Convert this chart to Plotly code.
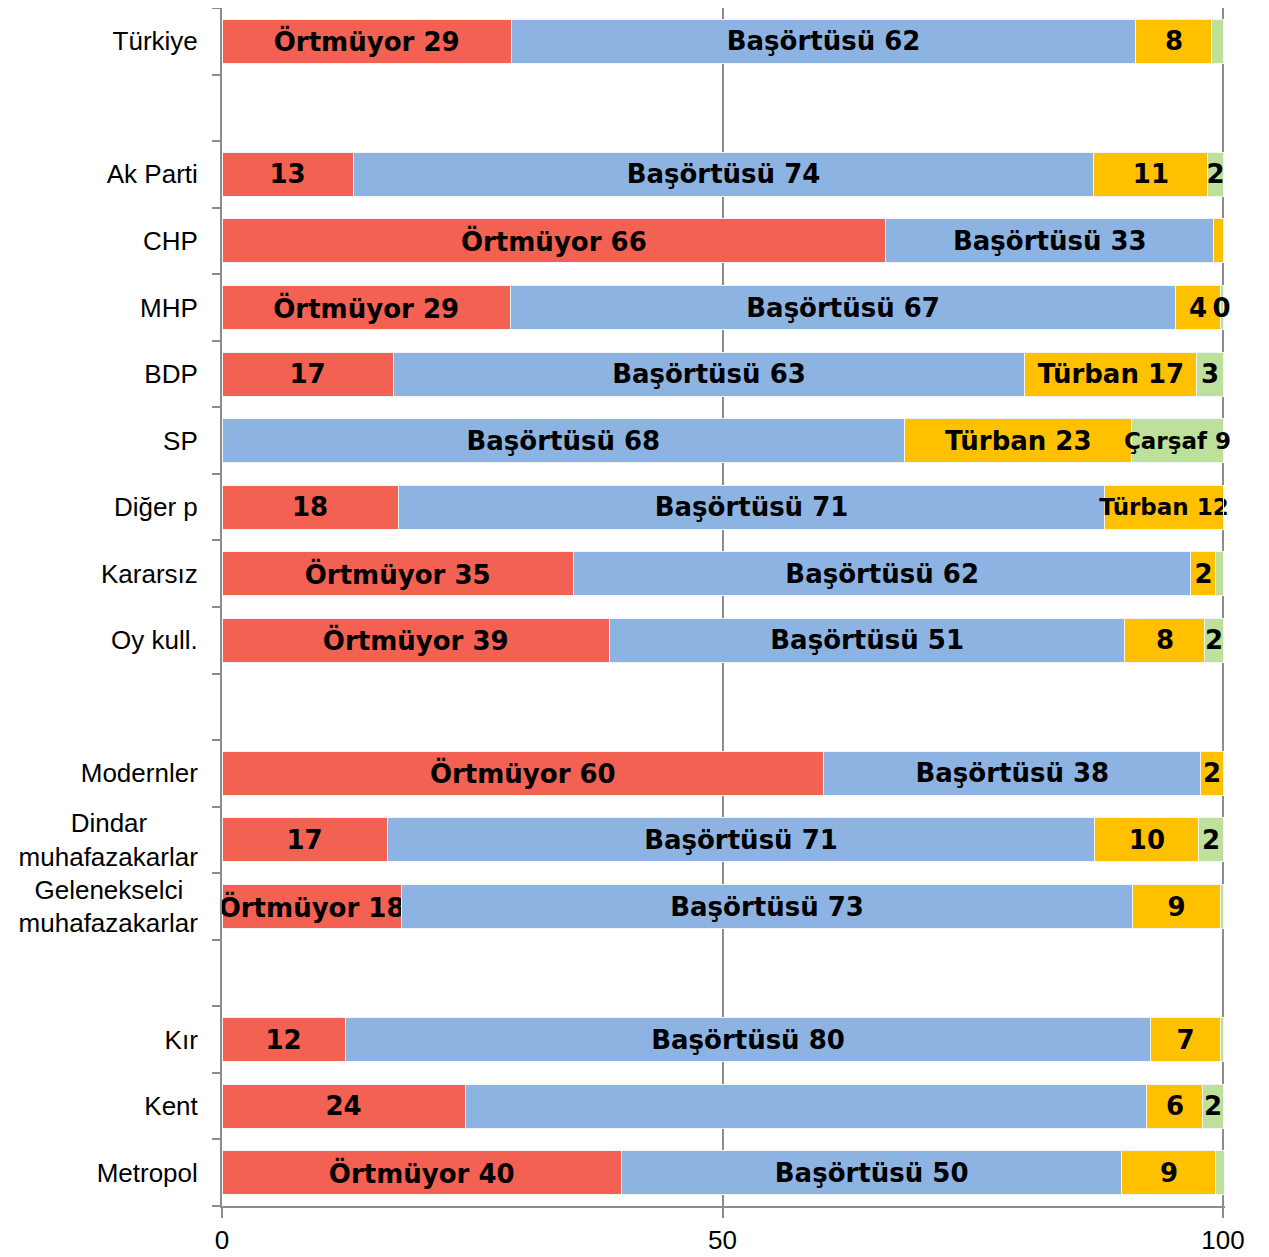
import plotly.graph_objects as go

NBSP = "\u00a0"

# Category keys (blank rows are spacer rows)
categories = ["Türkiye", " ", "Ak Parti", "CHP", "MHP", "BDP", "SP", "Diğer p",
              "Kararsız", "Oy kull.", "  ", "Modernler", "Dindar muhafazakarlar",
              "Gelenekselci muhafazakarlar", "   ", "Kır", "Kent", "Metropol"]
category_labels = ["Türkiye", "", "Ak Parti", "CHP", "MHP", "BDP", "SP", "Diğer p",
                   "Kararsız", "Oy kull.", "", "Modernler",
                   "Dindar" + NBSP * 7 + "<br>muhafazakarlar",
                   "Gelenekselci" + NBSP * 2 + "<br>muhafazakarlar", "",
                   "Kır", "Kent", "Metropol"]

series_names = ["Örtmüyor", "Başörtüsü", "Türban", "Çarşaf"]

ortmuyor = [28.9, None, 13.1, 66.3, 28.8, 17.1, 0, 17.6, 35.1, 38.7, None,
            60.1, 16.5, 17.9, None, 12.3, 24.3, 39.9]
basortusu = [62.4, None, 74.0, 32.8, 66.5, 63.1, 68.2, 70.6, 61.7, 51.5, None,
             37.7, 70.7, 73.1, None, 80.5, 68.1, 50.0]
turban = [7.6, None, 11.4, 0.9, 4.4, 17.2, 22.7, 11.8, 2.5, 8.0, None,
          2.2, 10.4, 8.7, None, 6.9, 5.6, 9.4]
carsaf = [1.1, None, 1.5, 0, 0.3, 2.6, 9.1, 0, 0.7, 1.8, None,
          0, 2.4, 0.3, None, 0.3, 2.0, 0.8]

ortmuyor_lbl = ["Örtmüyor 29", "", "13", "Örtmüyor 66", "Örtmüyor 29", "17", "", "18",
                "Örtmüyor 35", "Örtmüyor 39", "", "Örtmüyor 60", "17", "Örtmüyor 18",
                "", "12", "24", "Örtmüyor 40"]
basortusu_lbl = ["Başörtüsü 62", "", "Başörtüsü 74", "Başörtüsü 33", "Başörtüsü 67",
                 "Başörtüsü 63", "Başörtüsü 68", "Başörtüsü 71", "Başörtüsü 62",
                 "Başörtüsü 51", "", "Başörtüsü 38", "Başörtüsü 71", "Başörtüsü 73",
                 "", "Başörtüsü 80", "", "Başörtüsü 50"]
turban_lbl = ["8", "", "11", "", "4", "Türban 17", "Türban 23", "Türban 12", "2", "8",
              "", "2", "10", "9", "", "7", "6", "9"]
carsaf_lbl = ["", "", "2", "", "0", "3", "Çarşaf 9", "", "", "2", "", "", "2", "",
              "", "", "2", ""]

x_ticks = [0, 50, 100]

colors = ["#F26152", "#8DB3E2", "#FFC000", "#BDE09A"]

# label font sizes (smaller where the label is squeezed at the right edge)
BASE = 26
sizes = {
    "Örtmüyor": [BASE] * len(categories),
    "Başörtüsü": [BASE] * len(categories),
    "Türban": [BASE if c != "Diğer p" else 23 for c in categories],
    "Çarşaf": [BASE if c != "SP" else 23 for c in categories],
}

fig = go.Figure()
for name, vals, lbls, col in zip(series_names,
                                 [ortmuyor, basortusu, turban, carsaf],
                                 [ortmuyor_lbl, basortusu_lbl, turban_lbl, carsaf_lbl],
                                 colors):
    fig.add_trace(go.Bar(
        y=categories, x=vals, name=name, orientation="h",
        marker=dict(color=col, line=dict(color="#F4F4F4", width=1)),
        text=lbls, texttemplate="%{text}", textposition="inside",
        insidetextanchor="middle", textangle=0, constraintext="none",
        cliponaxis=False,
        textfont=dict(family="DejaVu Sans", size=sizes[name], color="black",
                      weight="bold"),
        hoverinfo="skip",
    ))

# the page body has an 8px default margin; size the figure to fit the window
fig.update_layout(
    barmode="stack",
    bargap=0.34,
    width=1261, height=1249,
    margin=dict(l=214, r=44, t=0, b=51, autoexpand=False),
    plot_bgcolor="white", paper_bgcolor="white",
    showlegend=False,
    font=dict(family="Liberation Sans", size=26, color="black"),
)
fig.update_xaxes(
    range=[0, 100.2], tickvals=x_ticks, ticktext=[str(v) for v in x_ticks],
    showgrid=True, gridcolor="#8C8C8C", gridwidth=2,
    showline=True, linecolor="#8C8C8C", linewidth=2,
    ticks="outside", ticklen=10, tickcolor="#8C8C8C", tickwidth=2,
    zeroline=False, fixedrange=True, automargin=False,
)
fig.update_yaxes(
    type="category", categoryorder="array", categoryarray=categories,
    tickvals=categories, ticktext=category_labels,
    autorange="reversed", tickson="boundaries",
    showgrid=False, showline=True, linecolor="#8C8C8C", linewidth=2,
    ticks="outside", ticklen=8, tickcolor="#8C8C8C", tickwidth=2,
    ticklabelstandoff=17, fixedrange=True, automargin=False,
)

fig.write_html("out.html")
